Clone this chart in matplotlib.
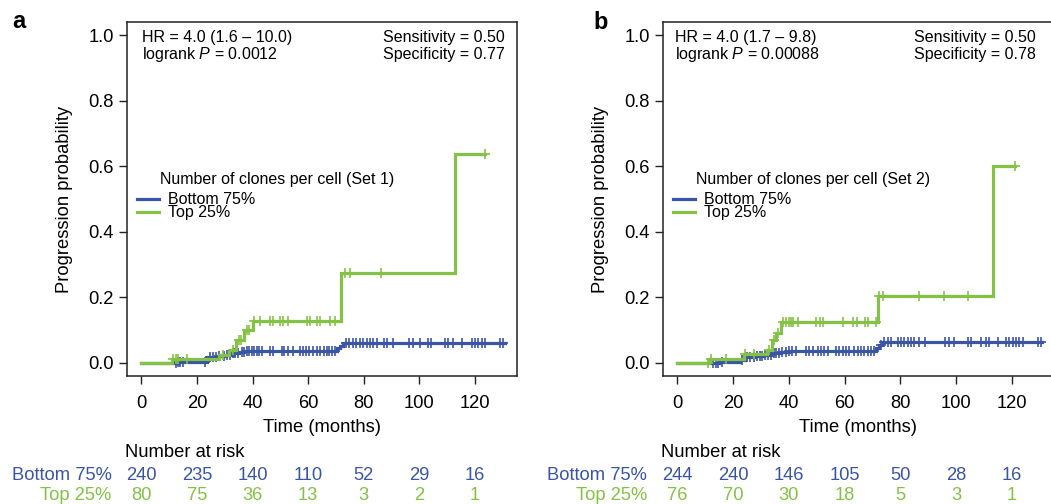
import numpy as np
import matplotlib
matplotlib.use("Agg")
import matplotlib.pyplot as plt

plt.rcParams['font.family'] = ['Liberation Sans', 'DejaVu Sans']
plt.rcParams['mathtext.fontset'] = 'custom'
plt.rcParams['mathtext.rm'] = 'Liberation Sans'
plt.rcParams['mathtext.it'] = 'Liberation Sans:italic'

BLUE = '#3B55A5'
GREEN = '#84C245'

# ---------------- data: panel a (Set 1) ----------------
a_bottom_t = [0, 13, 23.5, 27.7, 30.5, 33, 35, 37, 70.5, 71.5, 72.5, 130.8]
a_bottom_p = [0, 0.004, 0.017, 0.021, 0.025, 0.029, 0.033, 0.036, 0.045, 0.053, 0.062, 0.062]
a_bottom_cens = [12.3, 13.2, 14.0, 14.8, 22.8, 24.6, 25.8, 27.0, 27.8, 29.8, 30.8, 32.0, 33.0, 33.8,
                 34.9, 36.1, 36.9, 37.9, 38.8, 39.7, 40.5, 41.5, 42.4, 43.3, 46.3, 47.5, 50.5, 51.3,
                 52.9, 54.5, 57.1, 58.3, 59.3, 60.4, 61.9, 63.1, 64.3, 65.7, 66.7, 67.6, 68.7, 69.7,
                 73.7, 74.8, 76.1, 77.3, 78.7, 79.9, 81.1, 82.3, 83.5, 84.7, 87.3, 88.5, 90.7, 96.4,
                 97.9, 100.3, 103.3, 104.2, 109.3, 110.5, 112.3, 115.3, 118.9, 120.1, 121.3, 122.5,
                 123.7, 129.1, 130.3]
a_top_t = [0, 11.0, 28.0, 31.5, 34.0, 37.0, 40.0, 72.0, 113.0, 123.5]
a_top_p = [0, 0.0125, 0.025, 0.038, 0.07, 0.10, 0.128, 0.273, 0.637, 0.637]
a_top_cens = [11.5, 12.3, 13.0, 16.5, 29.5, 33.0, 35.0, 35.8, 38.0, 38.6, 40.6, 42.5, 46.4, 47.3,
              49.9, 50.9, 52.6, 59.5, 60.5, 63.1, 64.1, 67.9, 69.8, 73.3, 75.1, 86.2, 123.5]
a_risk_bottom = [240, 235, 140, 110, 52, 29, 16]
a_risk_top = [80, 75, 36, 13, 3, 2, 1]

# ---------------- data: panel b (Set 2) ----------------
b_bottom_t = [0, 15, 22.5, 24.3, 28, 31, 34, 37, 40, 71.3, 72.5, 73.5, 131]
b_bottom_p = [0, 0.004, 0.008, 0.017, 0.021, 0.025, 0.029, 0.033, 0.037, 0.046, 0.056, 0.065, 0.065]
b_bottom_cens = [12.8, 13.7, 14.6, 16.0, 23.0, 25.0, 26.0, 27.5, 28.5, 29.5, 30.5, 31.5, 32.5, 33.5,
                 34.5, 35.5, 36.5, 37.5, 38.9, 40.1, 41.3, 42.5, 46.1, 47.3, 48.5, 50.3, 51.5, 52.7,
                 53.9, 56.9, 58.1, 59.3, 60.5, 61.7, 63.5, 64.7, 65.9, 67.1, 68.3, 69.5, 70.4,
                 73.1, 74.3, 75.5, 76.7, 79.1, 80.3, 81.5, 82.6, 83.8, 85.0, 86.8, 89.0, 96.2, 97.4,
                 99.4, 104.2, 105.4, 109.0, 110.8, 112.0, 115.0, 118.0, 119.2, 120.4, 121.6, 122.8,
                 124.0, 129.4, 130.6]
b_top_t = [0, 11.4, 24.0, 32.1, 33.9, 35.3, 37.3, 71.9, 113.3, 121.1]
b_top_p = [0, 0.013, 0.026, 0.04, 0.07, 0.092, 0.125, 0.205, 0.601, 0.601]
b_top_cens = [11.0, 12.0, 17.5, 24.3, 27.3, 33.0, 34.5, 36.0, 38.0, 38.9, 39.9, 40.6, 41.5, 43.3,
              49.9, 51.1, 52.1, 59.5, 63.1, 64.3, 67.3, 68.5, 71.3, 72.5, 73.9, 86.8, 95.8, 104.3,
              121.1]
b_risk_bottom = [244, 240, 146, 105, 50, 28, 16]
b_risk_top = [76, 70, 30, 18, 5, 3, 1]

risk_times = [0, 20, 40, 60, 80, 100, 120]
y_ticks = [0.0, 0.2, 0.4, 0.6, 0.8, 1.0]
group_labels = ['Bottom 75%', 'Top 25%']

panels = [
    dict(label='a', rect=[127/1051, 1-376/504, 390/1051, 354/504],
         bottom=(a_bottom_t, a_bottom_p, a_bottom_cens), top=(a_top_t, a_top_p, a_top_cens),
         risk=(a_risk_bottom, a_risk_top), hr='HR = 4.0 (1.6 – 10.0)', p='logrank $P$ = 0.0012',
         sens='Sensitivity = 0.50', spec='Specificity = 0.77', set_name='Set 1',
         lab_xy=(12, 28), left_x=0.038, right_x=0.969),
    dict(label='b', rect=[663/1051, 1-376/504, 391/1051, 354/504],
         bottom=(b_bottom_t, b_bottom_p, b_bottom_cens), top=(b_top_t, b_top_p, b_top_cens),
         risk=(b_risk_bottom, b_risk_top), hr='HR = 4.0 (1.7 – 9.8)', p='logrank $P$ = 0.00088',
         sens='Sensitivity = 0.50', spec='Specificity = 0.78', set_name='Set 2',
         lab_xy=(593, 29), left_x=0.031, right_x=0.954),
]

FS_IN = 11.5   # in-plot annotations and legend
FS = 13.2      # ticks, axis labels, risk table
fig = plt.figure(figsize=(10.51, 5.04), dpi=100)


def step_at(t, times, vals):
    idx = np.searchsorted(np.asarray(times), np.asarray(t), side='right') - 1
    return np.asarray(vals)[np.clip(idx, 0, len(vals) - 1)]


for pn in panels:
    ax = fig.add_axes(pn['rect'])
    for (tt, pp, cc), col in [(pn['bottom'], BLUE), (pn['top'], GREEN)]:
        ax.step(tt, pp, where='post', color=col, lw=2.3, solid_joinstyle='miter', zorder=3)
        ax.plot(cc, step_at(cc, tt, pp), ls='none', marker='+', ms=6.5, mew=1.2,
                color=col, zorder=3)
    ax.set_xlim(-5.2, 135.2)
    ax.set_ylim(-0.04, 1.04)
    ax.set_xticks(risk_times)
    ax.set_yticks(y_ticks)
    ax.set_yticklabels([f'{v:.1f}' for v in y_ticks])
    ax.tick_params(direction='out', length=5.5, width=1.0, labelsize=FS, color='#222222')
    ax.tick_params(axis='y', pad=4)
    ax.tick_params(axis='x', pad=8)
    for s in ax.spines.values():
        s.set_linewidth(1.1)
        s.set_color('#222222')

    ax.text(-0.159, 0.5, 'Progression probability', rotation=90, ha='center', va='center',
            fontsize=FS, transform=ax.transAxes)
    ax.text(0.5, -0.146, 'Time (months)', ha='center', va='center', fontsize=FS,
            transform=ax.transAxes)

    # annotations
    ax.text(pn['left_x'], 0.944, pn['hr'], ha='left', va='baseline', fontsize=FS_IN,
            transform=ax.transAxes)
    ax.text(pn['left_x'], 0.895, pn['p'], ha='left', va='baseline', fontsize=FS_IN,
            transform=ax.transAxes)
    ax.text(pn['right_x'], 0.944, pn['sens'], ha='right', va='baseline', fontsize=FS_IN,
            transform=ax.transAxes)
    ax.text(pn['right_x'], 0.895, pn['spec'], ha='right', va='baseline', fontsize=FS_IN,
            transform=ax.transAxes)

    # legend
    ax.text(0.0846, 0.556, f'Number of clones per cell ({pn["set_name"]})', ha='left',
            va='center', fontsize=FS_IN, transform=ax.transAxes)
    for yy, col, lab in [(0.5, BLUE, group_labels[0]), (0.463, GREEN, group_labels[1])]:
        ax.plot([0.0256, 0.0821], [yy, yy], color=col, lw=2.3, transform=ax.transAxes,
                clip_on=False)
        ax.text(0.105, yy, lab, ha='left', va='center', fontsize=FS_IN, transform=ax.transAxes)

    # number at risk table
    trans = matplotlib.transforms.blended_transform_factory(ax.transData, ax.transAxes)
    ax.text(-0.005, -0.215, 'Number at risk', ha='left', va='center', fontsize=FS,
            transform=ax.transAxes)
    rows = [(-0.281, BLUE, pn['risk'][0], group_labels[0]),
            (-0.337, GREEN, pn['risk'][1], group_labels[1])]
    for yy, col, vals, lab in rows:
        ax.text(-0.040, yy, lab, ha='right', va='center', fontsize=FS, color=col,
                transform=ax.transAxes)
        for t, v in zip(risk_times, vals):
            ax.text(t, yy, str(v), ha='center', va='center', fontsize=FS, color=col,
                    transform=trans, clip_on=False)

    fig.text(pn['lab_xy'][0] / 1051, 1 - pn['lab_xy'][1] / 504, pn['label'], fontsize=17,
             fontweight='bold', ha='left', va='baseline')

fig.savefig('out.png', dpi=100)
